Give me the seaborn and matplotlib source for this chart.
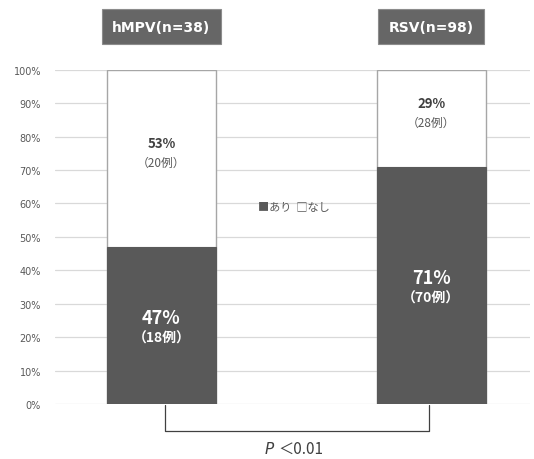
import matplotlib
matplotlib.use("Agg")
import matplotlib.pyplot as plt
import seaborn as sns
import pandas as pd

sns.set_theme(style="white")
plt.rcParams["font.family"] = ["Noto Sans CJK JP", "DejaVu Sans"]

groups = ["hMPV(n=38)", "RSV(n=98)"]
yes_pct = [47, 71]
no_pct = [53, 29]
yes_n = [18, 70]
no_n = [20, 28]
yticks = [0, 10, 20, 30, 40, 50, 60, 70, 80, 90, 100]
p_text = "＜0.01"

dark = "#595959"
df = pd.DataFrame({"group": groups, "yes": yes_pct,
                   "total": [a + b for a, b in zip(yes_pct, no_pct)]})

fig = plt.figure(figsize=(5.34, 4.6), dpi=100)
ax = fig.add_axes([0.103, 0.1196, 0.890, 0.7265])

sns.barplot(data=df, x="group", y="total", color="white", edgecolor="#a6a6a6",
            linewidth=1.0, width=0.404, saturation=1, ax=ax, zorder=2)
sns.barplot(data=df, x="group", y="yes", color=dark, edgecolor=dark,
            linewidth=0.8, width=0.404, saturation=1, ax=ax, zorder=3)

ax.set_xlim(-0.394, 1.367)
ax.set_ylim(0, 100)
ax.set_yticks(yticks)
ax.set_yticklabels([f"{v}%" for v in yticks], fontsize=7, color="#595959",
                   family="DejaVu Sans")
ax.tick_params(axis="y", length=0, pad=10)
ax.set_xticks([])
ax.set_xlabel("")
ax.set_ylabel("")
for s in ax.spines.values():
    s.set_visible(False)
for v in yticks:
    ax.axhline(v, color="#d9d9d9", lw=0.9, zorder=0)

# segment labels
for i in range(len(groups)):
    ymid = yes_pct[i] / 2
    ax.annotate(f"{yes_pct[i]}%", (i, ymid), xytext=(0, -1),
                textcoords="offset points", ha="center", va="bottom",
                color="white", fontsize=13, fontweight="bold", zorder=5)
    ax.annotate(f"（{yes_n[i]}例）", (i, ymid), xytext=(0, -4),
                textcoords="offset points", ha="center", va="top",
                color="white", fontsize=10, fontweight="bold", zorder=5)
    nmid = yes_pct[i] + no_pct[i] / 2 + 2
    ax.annotate(f"{no_pct[i]}%", (i, nmid), xytext=(0, 1),
                textcoords="offset points", ha="center", va="bottom",
                color="#404040", fontsize=9.5, fontweight="bold", zorder=5)
    ax.annotate(f"（{no_n[i]}例）", (i, nmid), xytext=(0, -3),
                textcoords="offset points", ha="center", va="top",
                color="#595959", fontsize=8.5, zorder=5)

# legend in the middle
ax.text(0.49, 59, "■あり  □なし", ha="center", va="center", fontsize=8,
        color="#595959", zorder=5)

# group headers
for i, g in enumerate(groups):
    ax.annotate(g, (i, 100), xytext=(0, 31), textcoords="offset points",
                ha="center", va="center", color="white", fontsize=10,
                fontweight="bold", family="DejaVu Sans", annotation_clip=False,
                bbox=dict(boxstyle="square,pad=0.75", fc="#666666",
                          ec="#8c8c8c", lw=0.8))

# significance bracket
x0, x1 = 0.015, 0.99
ax.plot([x0, x0, x1, x1], [-0.2, -8.2, -8.2, -0.2], color="#404040", lw=0.9,
        clip_on=False, zorder=4)
xm = (x0 + x1) / 2
ax.annotate("$P$", (xm, -8.2), xytext=(-20, -12), textcoords="offset points",
            ha="center", va="center", fontsize=11, color="#404040",
            annotation_clip=False)
ax.annotate(p_text, (xm, -8.2), xytext=(3, -12), textcoords="offset points",
            ha="center", va="center", fontsize=11, color="#404040",
            annotation_clip=False)

fig.savefig("out.png", dpi=100, facecolor="white")
